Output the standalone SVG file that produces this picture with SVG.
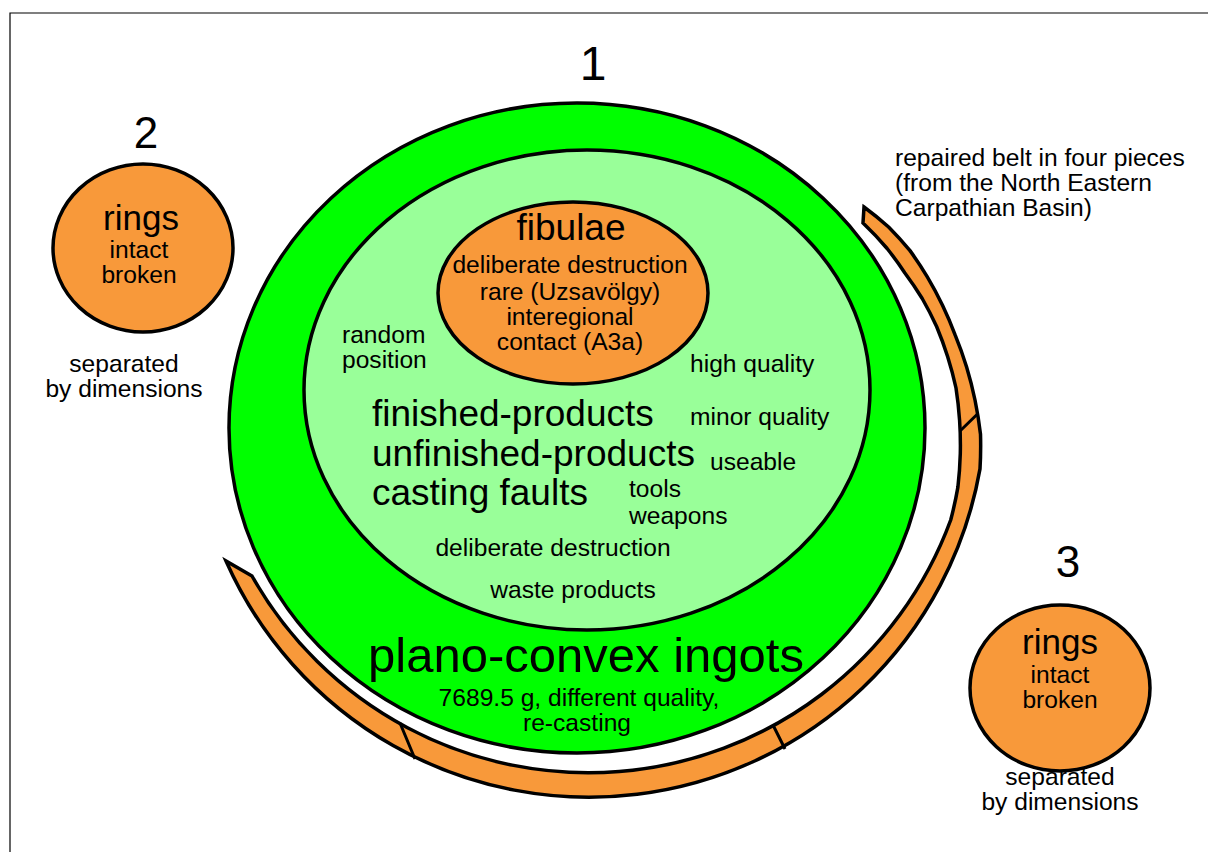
<svg xmlns="http://www.w3.org/2000/svg" width="1208" height="852" viewBox="0 0 1208 852">
<style>
text{font-family:"Liberation Sans",Arial,sans-serif;fill:#000}
.s{font-size:24.6px}
.m{font-size:35px}
.b{font-size:37px}
.num{font-size:44px}
.c{text-anchor:middle}
.ln{fill:none;stroke:#000;stroke-width:3}
.orange{fill:#F8993A;stroke:#000;stroke-width:3.5}
</style>
<rect width="1208" height="852" fill="#fff"/>
<g id="frame"><path d="M10 852 V13 H1208" fill="none" stroke="#000" stroke-width="1.2"/></g>

<g id="node-plano">
<ellipse cx="577" cy="428" rx="348" ry="325" fill="#00FF00" stroke="#000" stroke-width="3.5"/>
<text class="c" x="586" y="672" style="font-size:49px">plano-convex ingots</text>
<text class="s c" x="579" y="706">7689.5 g, different quality,</text>
<text class="s c" x="577" y="731">re-casting</text>
</g>

<g id="node-products">
<ellipse cx="587" cy="390" rx="283" ry="240" fill="#99FF99" stroke="#000" stroke-width="3.5"/>
<text class="s" x="342" y="343">random</text>
<text class="s" x="342" y="368">position</text>
<text class="s" x="690" y="372">high quality</text>
<text class="s" x="690" y="425">minor quality</text>
<text class="s" x="710" y="470">useable</text>
<text class="s" x="629" y="497">tools</text>
<text class="s" x="629" y="524">weapons</text>
<text class="b" x="372" y="426">finished-products</text>
<text class="b" x="372" y="466">unfinished-products</text>
<text class="b" x="372" y="505">casting faults</text>
<text class="s c" x="553" y="556">deliberate destruction</text>
<text class="s c" x="573" y="598">waste products</text>
</g>

<g id="node-fibulae">
<ellipse cx="573" cy="293" rx="135" ry="91" class="orange"/>
<text class="b c" x="571" y="240">fibulae</text>
<text class="s c" x="570" y="273">deliberate destruction</text>
<text class="s c" x="570" y="300">rare (Uzsavölgy)</text>
<text class="s c" x="570" y="325">interegional</text>
<text class="s c" x="570" y="350">contact (A3a)</text>
</g>

<g id="node-belt">
<path class="orange" stroke-width="3" stroke-linejoin="miter" d="M864 207 A341 341 0 0 1 888.6 227 A350 350 0 0 1 909.8 250.4 A357 357 0 0 1 927.3 276.9 A363 363 0 0 1 942.5 305.3 A369 369 0 0 1 955.3 335.4 A375 375 0 0 1 966.6 367 A382 382 0 0 1 975 400 A390 390 0 0 1 980.5 434.3 A395 395 0 0 1 980 468.9 A397 397 0 0 1 226 561 L252 576 A386 386 0 0 0 950.7 520 A384 384 0 0 0 957.9 487.1 A380 380 0 0 0 960.3 453.6 A375 375 0 0 0 959.6 420.5 A370 370 0 0 0 956 388 A364 364 0 0 0 947.6 356.5 A357 357 0 0 0 936.6 326.5 A350 350 0 0 0 922.2 298.5 A341 341 0 0 0 904.7 272.7 A333 333 0 0 0 887.1 248.5 A325 325 0 0 0 863 223 Z"/>
<path class="ln" d="M960 431 L977.5 414 M773 725 L785 749 M400 723 L415 759"/>
<text class="s" x="895" y="166">repaired belt in four pieces</text>
<text class="s" x="895" y="191">(from the North Eastern</text>
<text class="s" x="895" y="216">Carpathian Basin)</text>
</g>

<g id="node-rings2">
<ellipse cx="143" cy="248" rx="90" ry="84" class="orange"/>
<text class="m c" x="141" y="230">rings</text>
<text class="s c" x="139" y="258">intact</text>
<text class="s c" x="139" y="283">broken</text>
<text class="s c" x="124" y="372">separated</text>
<text class="s c" x="124" y="397">by dimensions</text>
</g>

<g id="node-rings3">
<ellipse cx="1060" cy="688" rx="90" ry="83" class="orange"/>
<text class="m c" x="1060" y="654">rings</text>
<text class="s c" x="1060" y="683">intact</text>
<text class="s c" x="1060" y="708">broken</text>
<text class="s c" x="1060" y="785">separated</text>
<text class="s c" x="1060" y="810">by dimensions</text>
</g>

<g id="labels">
<text class="c" x="593" y="80" style="font-size:48px">1</text>
<text class="num c" x="146" y="148">2</text>
<text class="num c" x="1068" y="577">3</text>
</g>
</svg>
